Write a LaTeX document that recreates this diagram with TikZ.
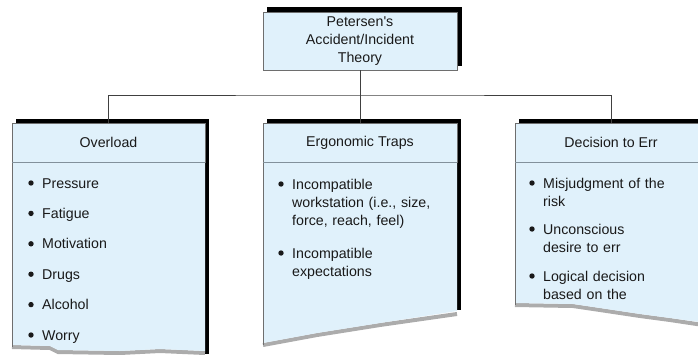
\documentclass[tikz,border=0pt]{standalone}
\usepackage{fontspec}
\setmainfont{Liberation Sans}
\usetikzlibrary{positioning}
\definecolor{boxblue}{RGB}{224,241,251}
\definecolor{edgegray}{RGB}{110,110,110}
\definecolor{rulegray}{RGB}{130,145,155}
\definecolor{torngray}{RGB}{172,172,172}
\definecolor{inkgray}{RGB}{25,25,25}

\begin{document}
\begin{tikzpicture}[x=1pt, y=-1pt,
        every node/.style={font=\fontsize{14.2}{18}\selectfont, text=inkgray},
        titlebox/.style={draw=edgegray, fill=boxblue, minimum width=194pt, minimum height=58pt, inner sep=0pt, align=center},
        headbox/.style={draw=edgegray, fill=boxblue, minimum width=193pt, minimum height=39pt, inner sep=0pt},
        itemtext/.style={anchor=base west, inner sep=0pt, text width=160pt, align=left},
        link/.style={draw=black!75, line width=0.8pt},
        torn/.style={draw=torngray, line width=4pt}]
        \useasboundingbox (0,0) rectangle (698,354);
        \clip (0,0) rectangle (698,354);

        % title box
        \fill[black] (267,7) rectangle (462,12);
        \fill[black] (457,7) rectangle (462,66);
        \node[titlebox] (top) at (360,41) {Petersen\textquotesingle s\\Accident/Incident\\Theory};

        % shadows
        \fill[black] (16,119) rectangle (209,123);
        \fill[black] (205,119) rectangle (209,354);
        \fill[black] (267,119) rectangle (461,123);
        \fill[black] (457,119) rectangle (461,310);
        \fill[black] (519,119) rectangle (711,123);

        % torn bodies
        \draw[torn] (12,347) -- (50,348) -- (58,352) -- (120,353) -- (160,351) -- (205,353);
        \fill[boxblue] (12,162) -- (205,162) -- (205,351) -- (160,349) -- (120,351) -- (58,350) -- (50,346) -- (12,345) -- cycle;
        \draw[edgegray] (12,162) -- (12,347);

        \draw[torn] (263,345) -- (317,335) -- (380,325) -- (457,314);
        \fill[boxblue] (263,162) -- (457,162) -- (457,311) -- (380,323) -- (317,333) -- (263,343) -- cycle;
        \draw[edgegray] (263,162) -- (263,345);

        \draw[torn] (515,305) -- (573,306) -- (600,310) -- (640,316) -- (670,320) -- (710,326);
        \fill[boxblue] (515,162) -- (707,162) -- (707,323) -- (670,318) -- (640,314) -- (600,308) -- (573,304) -- (515,303) -- cycle;
        \draw[edgegray] (515,162) -- (515,305);

        % headers
        \node[headbox] (over) at (108.5,142.5) {Overload};
        \node[headbox, minimum width=194pt] (erg) at (360,142.5) {Ergonomic Traps};
        \node[headbox, minimum width=192pt] (dec) at (611,142.5) {Decision to Err};
        \draw[rulegray] (over.south west) -- (over.south east);
        \draw[rulegray] (erg.south west) -- (erg.south east);
        \draw[rulegray] (dec.south west) -- (dec.south east);

        % items
        \foreach \word [count=\i] in {Pressure,Fatigue,Motivation,Drugs,Alcohol,Worry} {
            \node[itemtext] (over\i) at (42,{188+30.4*(\i-1)}) {\word};
            \fill[inkgray] (over\i.base west) ++(-11,-5) circle (2.7);
        }
        \node[itemtext] (erg1) at (292,189) {Incompatible\\workstation (i.e., size,\\force, reach, feel)};
        \node[itemtext] (erg2) at (292,258) {Incompatible\\expectations};
        \node[itemtext] (dec1) at (543,188) {Misjudgment of the\\risk};
        \node[itemtext] (dec2) at (543,234) {Unconscious\\desire to err};
        \node[itemtext] (dec3) at (543,281) {Logical decision\\based on the};
        \foreach \n in {erg1,erg2,dec1,dec2,dec3}
            \fill[inkgray] (\n.base west) ++(-11,-5) circle (2.7);

        % connectors
        \coordinate (bus) at (360,95);
        \draw[link] (top.south) -- (bus);
        \draw[link] (over.north) |- (bus) -| (dec.north);
        \draw[link] (bus) -- (erg.north);
    \end{tikzpicture}
\end{document}
